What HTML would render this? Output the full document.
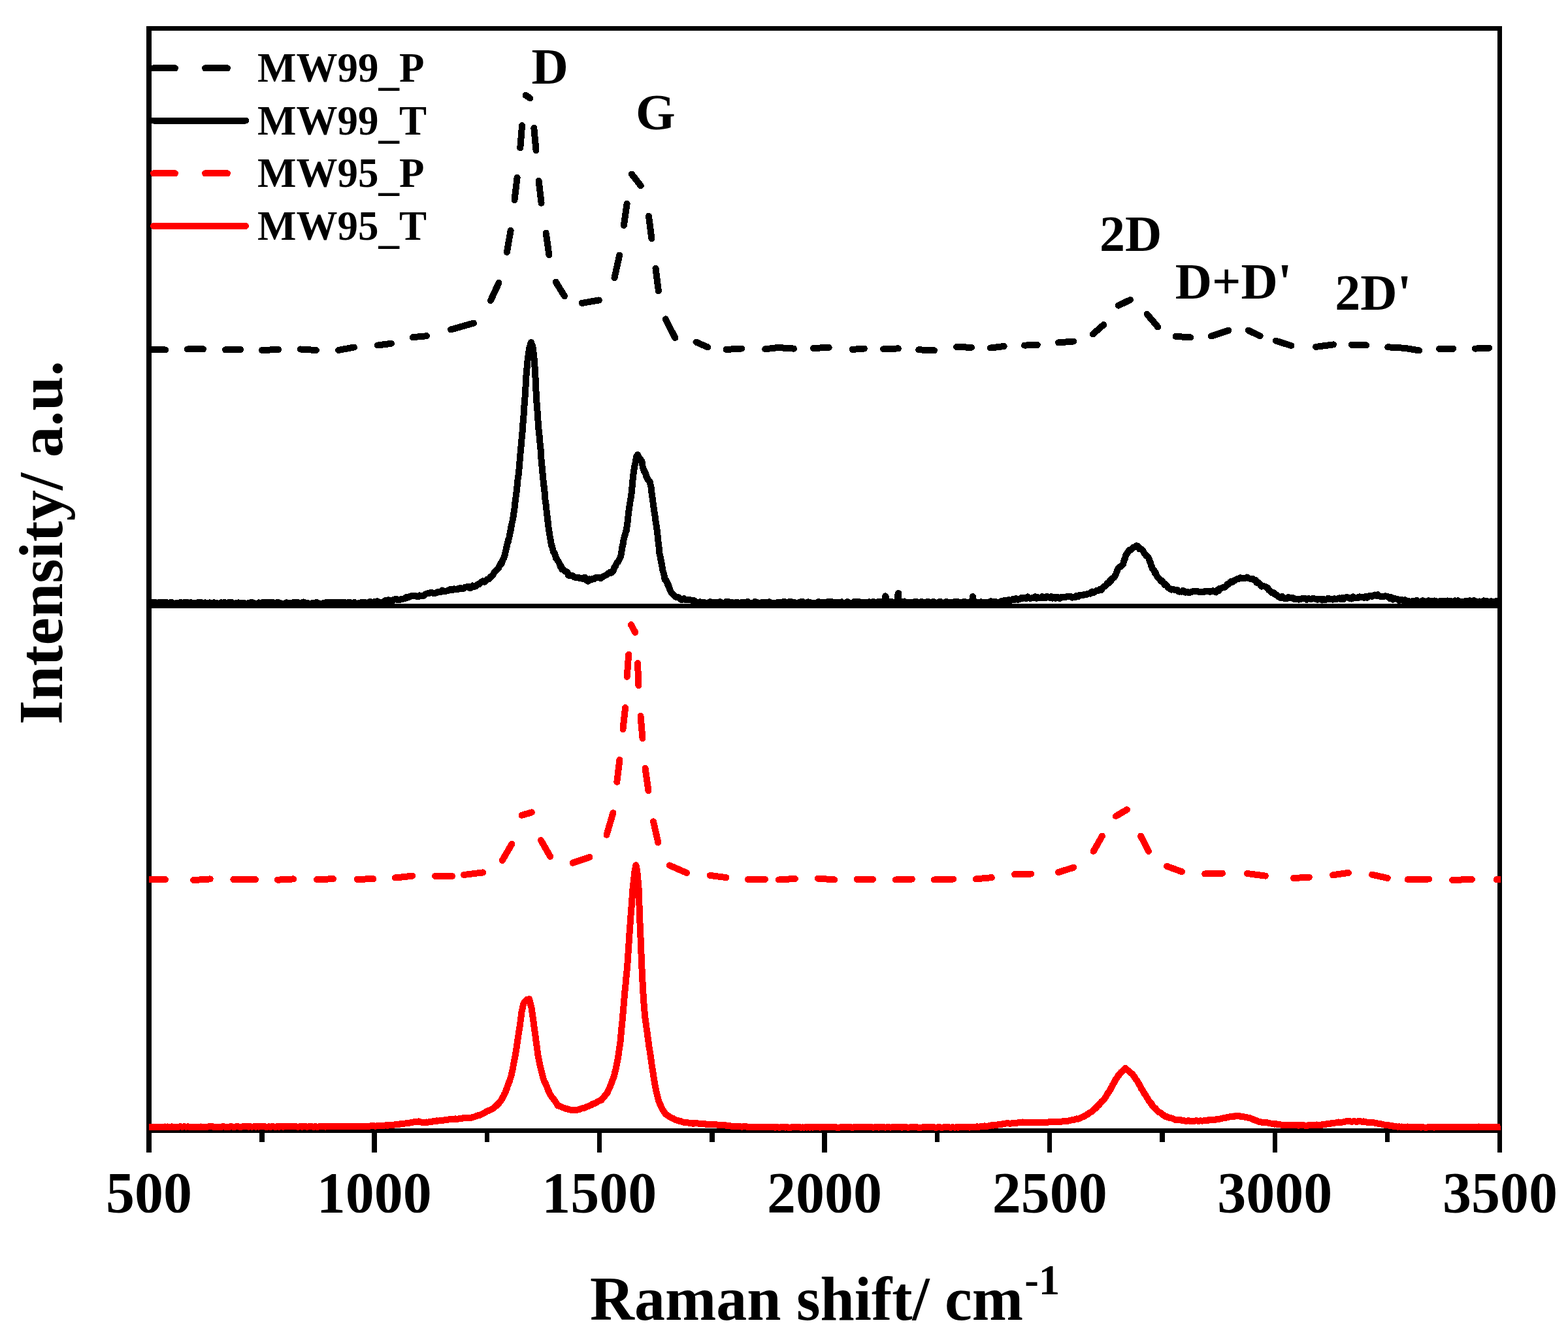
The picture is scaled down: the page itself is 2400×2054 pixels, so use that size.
<!DOCTYPE html>
<html lang="en"><head><meta charset="utf-8"><title>Raman spectra</title>
<style>html,body{margin:0;padding:0;background:#fff}body{width:2400px;height:2054px;overflow:hidden}svg{display:block}text{font-family:"Liberation Serif",serif;font-weight:bold;fill:#000}</style>
</head><body>
<svg width="2400" height="2054" viewBox="0 0 2400 2054">
<rect x="0" y="0" width="2400" height="2054" fill="#fff"/>
<g fill="#000" shape-rendering="crispEdges">
<rect x="224" y="40" width="8" height="1724"/>
<rect x="2292" y="40" width="7" height="1724"/>
<rect x="224" y="40" width="2075" height="7"/>
<rect x="224" y="924" width="2075" height="7"/>
<rect x="224" y="1727" width="2075" height="7"/>
<rect x="397" y="1734" width="8" height="14"/>
<rect x="569" y="1734" width="8" height="30"/>
<rect x="742" y="1734" width="7" height="14"/>
<rect x="914" y="1734" width="7" height="30"/>
<rect x="1086" y="1734" width="8" height="14"/>
<rect x="1258" y="1734" width="8" height="30"/>
<rect x="1431" y="1734" width="7" height="14"/>
<rect x="1603" y="1734" width="7" height="30"/>
<rect x="1775" y="1734" width="8" height="14"/>
<rect x="1948" y="1734" width="7" height="30"/>
<rect x="2120" y="1734" width="7" height="14"/>
</g>
<g fill="none" stroke-linejoin="round" stroke-linecap="round" shape-rendering="crispEdges">
<path d="M233.0,534.7 L253.0,535.5 M287.0,534.5 L311.0,534.3 M345.0,535.3 L368.0,535.0 M401.0,536.0 L426.0,535.0 M459.6,534.5 L484.0,536.0 M518.0,536.0 L542.0,531.5 M578.0,528.5 L599.0,525.8 M631.8,516.2 L653.0,514.2 M690.0,504.5 L725.0,494.5 M750.9,460.1 L763.5,433.0 M775.9,386.1 L781.6,352.8 M787.5,306.2 L791.6,271.8 M796.3,226.3 L799.1,192.1 M804.5,145.7 L811.4,150.4 M817.3,195.8 L820.5,230.0 M824.6,276.6 L828.6,310.9 M835.7,356.6 L840.4,390.2 M850.7,431.5 L864.0,453.2 M890.8,463.9 L916.7,459.5 M940.5,425.4 L948.2,390.6 M954.9,345.0 L959.6,311.6 M966.9,266.6 L980.8,284.2 M993.0,330.8 L997.4,365.2 M1003.5,410.7 L1007.9,445.2 M1018.6,488.4 L1033.3,517.0 M1065.5,523.6 L1083.4,531.4 M1111.6,535.0 L1135.0,533.5 M1171.2,534.3 L1190.7,532.0 L1215.0,533.6 M1245.0,533.0 L1268.7,531.8 M1304.8,534.9 L1322.8,533.6 M1352.1,534.3 L1374.9,533.4 M1406.2,535.3 L1430.0,536.3 M1464.1,531.0 L1486.9,531.8 M1516.0,532.5 L1536.7,530.0 M1568.1,528.6 L1587.8,527.9 M1620.1,524.4 L1643.1,522.5 M1672.8,511.4 L1689.2,497.1 M1711.8,467.6 L1730.1,458.9 M1755.6,480.7 L1772.2,500.4 M1799.6,514.9 L1822.4,516.4 M1853.7,514.5 L1880.3,505.8 M1910.6,505.6 L1928.6,514.3 M1952.7,521.6 L1976.3,529.0 M2013.9,530.9 L2041.0,527.4 M2068.8,527.8 L2091.0,528.4 M2124.2,531.3 L2149.9,532.8 L2172.1,536.5 M2203.0,533.8 L2224.2,533.8 M2258.0,533.6 L2279.2,532.6" stroke="#000" stroke-width="10"/>
<path d="M228.0,923.0 L230.2,922.5 L232.4,922.0 L234.6,923.5 L236.9,921.7 L239.1,923.1 L241.3,922.6 L243.5,921.7 L245.7,923.0 L247.9,921.6 L250.1,922.8 L252.3,921.7 L254.6,921.8 L256.8,922.8 L259.0,924.0 L261.2,921.9 L263.4,922.2 L265.6,923.4 L267.8,924.3 L270.1,923.2 L272.3,922.7 L274.5,924.4 L276.7,921.6 L278.9,924.1 L281.1,922.4 L283.3,921.9 L285.5,921.9 L287.8,922.4 L290.0,923.9 L292.2,922.0 L294.4,923.2 L296.6,923.4 L298.8,922.6 L301.0,923.1 L303.3,921.7 L305.5,921.7 L307.7,922.1 L309.9,923.5 L312.1,922.8 L314.3,922.4 L316.5,923.3 L318.7,922.9 L321.0,922.4 L323.2,923.9 L325.4,923.6 L327.6,922.2 L329.8,923.2 L332.0,923.1 L334.2,924.1 L336.5,923.7 L338.7,922.4 L340.9,924.4 L343.1,921.9 L345.3,922.8 L347.5,923.8 L349.7,922.0 L351.9,923.0 L354.2,921.6 L356.4,923.5 L358.6,923.8 L360.8,923.2 L363.0,924.1 L365.2,922.4 L367.4,923.6 L369.7,923.3 L371.9,923.2 L374.1,922.9 L376.3,924.0 L378.5,924.3 L380.7,922.9 L382.9,923.5 L385.1,921.7 L387.4,923.6 L389.6,923.4 L391.8,924.5 L394.0,924.0 L396.2,922.4 L398.4,922.7 L400.6,923.5 L402.9,921.6 L405.1,922.9 L407.3,922.0 L409.5,921.9 L411.7,921.7 L413.9,923.8 L416.1,921.9 L418.3,922.2 L420.6,922.7 L422.8,924.1 L425.0,921.7 L427.2,922.8 L429.4,923.1 L431.6,924.2 L433.8,924.0 L436.1,924.1 L438.3,922.3 L440.5,922.7 L442.7,922.6 L444.9,924.2 L447.1,924.4 L449.3,922.0 L451.5,922.0 L453.8,922.2 L456.0,922.2 L458.2,923.0 L460.4,923.3 L462.6,922.3 L464.8,921.5 L467.0,922.8 L469.3,922.6 L471.5,923.2 L473.7,924.4 L475.9,923.6 L478.1,923.0 L480.3,923.4 L482.5,923.5 L484.7,921.7 L487.0,924.2 L489.2,923.8 L491.4,924.1 L493.6,923.9 L495.8,922.7 L498.0,922.7 L500.2,921.8 L502.5,923.4 L504.7,921.7 L506.9,921.7 L509.1,922.1 L511.3,922.0 L513.5,922.5 L515.7,921.7 L517.9,921.5 L520.2,922.0 L522.4,921.8 L524.6,922.6 L526.8,921.6 L529.0,924.1 L531.2,923.3 L533.4,921.9 L535.7,922.3 L537.9,922.5 L540.1,922.6 L542.3,921.9 L544.5,924.0 L546.7,924.5 L548.9,922.9 L551.1,923.0 L553.4,921.8 L555.6,921.8 L557.8,922.5 L560.0,922.3 L562.2,923.8 L564.4,921.7 L566.7,921.1 L568.9,923.7 L571.1,922.3 L573.3,920.9 L575.6,922.0 L577.8,920.2 L580.0,921.6 L582.4,922.6 L584.7,921.9 L587.1,921.0 L589.5,919.3 L591.8,919.3 L594.2,918.3 L596.5,919.8 L598.9,918.7 L601.3,919.1 L603.6,917.4 L606.0,916.7 L608.3,918.1 L610.5,918.2 L612.8,917.5 L615.1,917.0 L617.3,916.6 L619.6,916.0 L621.9,914.1 L624.1,914.6 L626.4,913.8 L628.7,912.4 L630.9,912.1 L633.2,912.4 L635.5,912.0 L637.7,912.9 L640.0,913.4 L642.3,911.4 L644.6,912.4 L646.9,912.1 L649.2,911.5 L651.5,909.3 L653.8,908.4 L656.2,907.9 L658.5,907.4 L660.8,907.0 L663.1,907.8 L665.4,908.1 L667.7,907.5 L670.0,905.9 L672.2,906.1 L674.4,906.1 L676.7,903.6 L678.9,905.0 L681.1,905.3 L683.3,904.6 L685.6,904.1 L687.8,902.9 L690.0,901.6 L692.5,903.1 L694.9,901.4 L697.4,902.4 L699.8,902.5 L702.2,900.5 L704.7,900.1 L707.1,901.5 L709.6,900.6 L712.0,898.7 L714.4,898.3 L716.9,898.2 L719.3,900.2 L721.4,899.2 L723.5,896.5 L725.6,897.8 L727.7,897.5 L729.8,895.8 L731.9,894.1 L734.0,893.9 L736.4,891.2 L738.9,889.4 L741.3,890.8 L743.8,888.4 L746.2,886.5 L748.7,886.3 L750.6,882.8 L752.6,882.2 L754.5,880.1 L756.3,876.2 L758.1,874.4 L760.0,872.5 L761.8,870.3 L763.0,869.5 L764.2,866.6 L765.3,865.2 L766.5,862.4 L767.7,862.8 L768.6,859.1 L769.5,857.4 L770.3,855.7 L771.2,854.6 L772.1,851.1 L772.7,850.1 L773.3,846.4 L774.0,844.0 L774.6,841.6 L775.2,837.6 L775.8,836.4 L776.4,833.2 L777.0,830.2 L777.6,830.2 L778.2,825.9 L778.8,824.4 L779.4,822.7 L779.9,819.7 L780.4,816.6 L780.9,814.7 L781.4,812.4 L781.9,810.6 L782.4,806.1 L782.9,805.0 L783.4,801.6 L783.8,799.3 L784.3,798.3 L784.8,795.1 L785.3,792.8 L785.7,790.9 L786.0,789.0 L786.4,785.1 L786.8,783.2 L787.1,780.4 L787.5,778.0 L787.8,776.1 L788.0,773.0 L788.2,770.7 L788.5,768.1 L788.8,767.1 L789.0,763.9 L789.4,762.0 L789.7,759.8 L790.1,755.3 L790.5,753.7 L790.8,752.5 L791.2,749.7 L791.4,745.2 L791.7,742.7 L791.9,741.2 L792.1,737.6 L792.4,735.7 L792.6,732.7 L792.9,732.1 L793.2,730.0 L793.5,727.8 L793.8,723.2 L794.1,722.4 L794.4,719.8 L794.6,715.8 L794.8,715.6 L795.0,713.4 L795.2,708.7 L795.4,708.5 L795.6,704.4 L795.8,702.2 L796.1,701.3 L796.3,698.3 L796.5,693.9 L796.8,692.2 L797.0,690.0 L797.2,687.2 L797.4,684.5 L797.6,682.6 L797.8,681.5 L798.0,677.1 L798.2,676.4 L798.4,673.8 L798.6,670.3 L798.8,668.9 L799.0,667.5 L799.2,664.9 L799.4,661.3 L799.6,661.7 L799.8,658.9 L800.0,657.2 L800.1,652.3 L800.3,650.5 L800.5,647.6 L800.6,647.5 L800.8,643.8 L801.0,641.1 L801.2,639.7 L801.3,638.9 L801.5,636.4 L801.7,632.4 L801.8,629.8 L802.0,629.9 L802.2,626.6 L802.4,624.7 L802.5,620.6 L802.7,618.3 L802.9,617.9 L803.0,614.8 L803.2,611.5 L803.3,611.9 L803.5,608.7 L803.6,606.9 L803.8,602.5 L803.9,602.6 L804.0,598.0 L804.2,598.1 L804.3,594.6 L804.5,592.0 L804.6,590.4 L804.7,589.3 L804.9,585.0 L805.0,582.4 L805.2,581.3 L805.3,578.2 L805.4,575.5 L805.6,573.4 L805.7,570.9 L805.9,569.1 L806.0,567.1 L806.2,564.9 L806.5,564.0 L806.7,560.3 L806.9,558.7 L807.1,555.4 L807.4,553.7 L807.6,550.4 L807.8,548.9 L808.1,545.9 L808.3,545.8 L808.8,542.7 L809.2,539.1 L809.6,537.5 L810.1,536.3 L810.5,531.3 L811.0,531.0 L812.0,526.7 L813.1,523.9 L814.2,528.0 L815.3,529.7 L815.6,532.5 L816.0,535.6 L816.3,539.0 L816.6,539.6 L817.0,543.6 L817.3,545.7 L817.5,547.8 L817.6,549.3 L817.8,551.4 L818.0,552.8 L818.1,555.3 L818.3,557.4 L818.5,561.6 L818.7,562.4 L818.8,564.4 L819.0,566.5 L819.1,571.0 L819.2,573.3 L819.3,575.0 L819.4,576.1 L819.5,578.2 L819.7,580.6 L819.8,583.4 L819.9,584.7 L820.0,587.8 L820.1,589.5 L820.2,593.9 L820.3,596.2 L820.4,597.2 L820.5,598.5 L820.7,602.9 L820.8,603.2 L820.9,605.6 L821.0,606.8 L821.1,610.2 L821.2,612.7 L821.4,615.1 L821.5,616.4 L821.7,619.6 L821.9,620.4 L822.1,623.4 L822.2,625.1 L822.4,628.3 L822.6,629.5 L822.7,631.7 L822.9,634.8 L823.1,636.9 L823.2,640.2 L823.4,642.3 L823.6,645.2 L823.8,647.2 L823.9,649.6 L824.1,652.4 L824.3,653.1 L824.4,655.2 L824.6,659.5 L824.8,659.2 L825.1,663.2 L825.3,665.3 L825.5,665.8 L825.7,670.4 L826.0,672.9 L826.2,674.4 L826.4,677.0 L826.7,679.5 L826.9,679.8 L827.1,683.2 L827.3,685.4 L827.6,688.7 L827.8,690.9 L827.9,693.4 L828.1,695.2 L828.2,698.5 L828.3,700.3 L828.5,702.8 L828.6,703.9 L828.8,705.7 L829.1,708.5 L829.3,711.6 L829.5,713.2 L829.8,717.9 L830.0,719.5 L830.2,722.1 L830.5,724.6 L830.8,727.2 L831.0,729.1 L831.2,730.1 L831.5,734.9 L831.8,737.2 L832.0,738.9 L832.2,741.5 L832.5,744.3 L832.8,744.9 L833.0,749.4 L833.2,750.4 L833.5,752.3 L833.7,755.3 L833.9,759.1 L834.2,760.0 L834.4,764.0 L834.7,767.2 L835.0,768.2 L835.3,770.3 L835.7,773.0 L836.0,776.1 L836.3,778.8 L836.5,780.8 L836.8,783.3 L837.0,784.0 L837.3,786.7 L837.5,789.4 L837.8,793.3 L838.1,794.5 L838.4,797.7 L838.7,798.5 L839.0,801.1 L839.3,804.2 L839.6,807.8 L840.0,810.3 L840.3,812.7 L840.7,814.0 L841.1,817.1 L841.4,819.4 L841.8,821.9 L842.3,823.3 L842.8,828.0 L843.2,828.4 L843.7,833.2 L844.2,835.5 L844.7,835.2 L845.6,838.8 L846.5,842.3 L847.3,845.1 L848.2,845.9 L849.1,847.7 L850.1,850.0 L851.0,854.6 L852.0,854.8 L853.5,858.4 L854.9,859.5 L856.4,863.1 L857.6,866.8 L858.9,866.8 L860.1,871.4 L862.5,871.9 L865.0,874.5 L867.4,875.4 L868.6,876.2 L869.9,880.3 L871.1,881.3 L873.8,880.6 L876.5,881.3 L879.2,883.5 L881.4,883.9 L883.6,884.0 L885.8,884.1 L888.0,885.2 L890.4,884.9 L892.9,886.3 L895.3,883.5 L897.5,887.6 L899.7,889.7 L902.1,886.3 L904.6,887.5 L907.0,885.6 L909.6,886.0 L912.1,884.0 L914.7,884.1 L917.3,884.0 L919.7,885.1 L922.2,883.1 L924.6,881.7 L927.0,880.7 L929.5,879.0 L931.9,877.0 L933.8,875.9 L935.8,876.7 L937.7,873.8 L938.8,873.7 L940.0,869.5 L941.1,867.5 L942.2,866.2 L943.4,862.8 L944.7,860.8 L945.9,860.1 L947.3,857.4 L948.6,854.6 L950.0,851.6 L950.4,850.1 L950.9,847.8 L951.3,844.2 L951.7,842.4 L952.2,838.0 L952.6,837.7 L953.0,834.6 L953.5,833.3 L953.9,830.7 L954.3,827.4 L954.8,824.5 L955.2,824.9 L956.0,820.0 L956.7,818.5 L957.5,815.6 L958.2,812.9 L959.0,811.7 L959.3,809.9 L959.6,805.3 L960.0,804.0 L960.3,800.4 L960.6,798.7 L960.9,795.7 L961.2,792.7 L961.5,790.3 L961.7,788.1 L962.0,787.9 L962.3,784.3 L962.5,781.1 L962.8,780.9 L963.1,778.8 L963.5,774.6 L964.0,771.2 L964.4,768.9 L964.8,766.1 L965.3,764.3 L965.7,761.1 L966.0,759.2 L966.2,756.9 L966.5,755.5 L966.7,754.1 L967.0,751.4 L967.2,748.0 L967.5,745.7 L967.7,743.7 L967.9,740.9 L968.2,738.5 L968.4,735.3 L968.6,733.6 L968.8,733.4 L969.0,728.5 L969.3,727.3 L969.5,725.4 L969.9,723.6 L970.3,719.1 L970.8,716.8 L971.2,714.2 L971.6,712.2 L972.0,709.8 L972.5,709.1 L972.9,706.5 L973.3,704.4 L973.8,699.6 L976.0,695.9 L977.5,699.9 L978.9,702.3 L980.3,703.0 L981.8,705.3 L982.4,705.9 L983.0,709.6 L983.6,713.6 L984.2,715.7 L984.8,718.3 L985.7,721.1 L986.6,721.3 L987.6,723.3 L988.5,725.9 L989.4,729.5 L990.7,731.8 L992.0,734.5 L993.4,735.8 L994.7,737.4 L995.2,740.2 L995.6,741.8 L996.1,744.5 L996.5,745.4 L997.0,750.0 L997.3,750.6 L997.5,754.9 L997.8,756.2 L998.0,757.4 L998.3,759.1 L998.5,761.7 L998.8,765.0 L999.0,767.4 L999.3,767.8 L999.7,770.2 L1000.1,774.1 L1000.5,776.8 L1000.8,778.8 L1001.2,780.8 L1001.6,784.5 L1002.0,785.3 L1002.4,788.7 L1002.8,791.7 L1003.1,795.7 L1003.5,797.3 L1003.9,800.6 L1004.2,801.5 L1004.5,803.0 L1004.8,805.2 L1005.2,809.5 L1005.5,810.9 L1005.8,811.9 L1006.1,813.3 L1006.4,817.2 L1006.6,820.3 L1006.9,822.1 L1007.2,824.1 L1007.4,827.9 L1007.7,831.2 L1008.0,831.6 L1008.2,833.6 L1008.5,837.0 L1008.7,839.8 L1009.0,843.1 L1009.2,844.2 L1009.6,848.2 L1010.1,850.2 L1010.5,851.6 L1010.9,852.9 L1011.3,857.4 L1011.8,857.6 L1012.2,861.3 L1012.7,861.9 L1013.1,864.3 L1013.6,868.4 L1014.0,869.4 L1014.5,873.9 L1015.0,874.8 L1015.5,876.1 L1016.0,878.5 L1016.6,881.4 L1017.1,884.4 L1017.6,887.5 L1018.7,887.0 L1019.9,889.7 L1021.0,891.0 L1022.1,895.2 L1022.9,895.0 L1023.7,897.1 L1024.4,899.4 L1025.2,902.7 L1027.0,906.2 L1028.7,908.2 L1030.5,909.8 L1032.5,912.4 L1034.6,913.9 L1036.6,913.9 L1039.1,914.5 L1041.7,917.7 L1044.2,918.1 L1046.9,916.2 L1049.6,918.3 L1052.2,917.6 L1054.9,917.8 L1057.3,918.5 L1059.7,918.8 L1062.2,919.2 L1064.6,920.8 L1067.0,921.9 L1069.2,923.7 L1071.4,921.2 L1073.6,923.7 L1075.8,921.5 L1078.0,921.9 L1080.2,923.3 L1082.4,923.4 L1084.6,922.2 L1086.8,921.1 L1089.0,922.4 L1091.2,922.1 L1093.4,923.7 L1095.6,921.6 L1097.8,922.1 L1100.0,923.7 L1102.2,921.1 L1104.4,922.2 L1106.6,923.4 L1108.9,923.3 L1111.1,921.1 L1113.3,921.1 L1115.5,921.2 L1117.7,923.7 L1119.9,921.7 L1122.1,923.2 L1124.4,923.6 L1126.6,922.0 L1128.8,921.8 L1131.0,923.8 L1133.2,922.8 L1135.4,921.7 L1137.6,923.1 L1139.9,921.9 L1142.1,921.7 L1144.3,920.9 L1146.5,923.2 L1148.7,923.7 L1150.9,922.8 L1153.1,923.7 L1155.3,921.0 L1157.6,921.6 L1159.8,922.3 L1162.0,923.7 L1164.2,923.7 L1166.4,922.0 L1168.6,921.6 L1170.8,922.2 L1173.1,922.3 L1175.3,923.6 L1177.5,921.4 L1179.7,923.3 L1181.9,923.1 L1184.1,923.3 L1186.3,923.1 L1188.6,922.6 L1190.8,921.8 L1193.0,921.8 L1195.2,921.9 L1197.4,923.2 L1199.6,921.0 L1201.8,921.4 L1204.1,923.1 L1206.3,921.5 L1208.5,921.0 L1210.7,920.9 L1212.9,922.4 L1215.1,921.8 L1217.3,923.7 L1219.6,923.4 L1221.8,923.7 L1224.0,921.6 L1226.2,921.0 L1228.4,921.0 L1230.6,922.2 L1232.8,922.9 L1235.0,922.1 L1237.3,921.4 L1239.5,922.0 L1241.7,922.6 L1243.9,922.7 L1246.1,923.0 L1248.3,923.2 L1250.5,922.7 L1252.8,921.1 L1255.0,923.2 L1257.2,921.6 L1259.4,922.4 L1261.6,921.8 L1263.8,922.9 L1266.0,921.3 L1268.3,921.4 L1270.5,921.4 L1272.7,921.1 L1274.9,923.3 L1277.1,922.4 L1279.3,921.6 L1281.5,921.8 L1283.8,923.6 L1286.0,922.2 L1288.2,921.3 L1290.4,923.1 L1292.6,922.6 L1294.8,923.6 L1297.0,920.9 L1299.3,922.0 L1301.5,923.1 L1303.7,923.1 L1305.9,923.3 L1308.1,920.7 L1310.3,921.5 L1312.5,920.9 L1314.7,921.1 L1317.0,923.5 L1319.2,922.3 L1321.4,923.4 L1323.6,921.7 L1325.8,923.2 L1328.0,921.9 L1330.2,921.3 L1332.5,922.9 L1334.7,923.4 L1336.9,920.9 L1339.1,922.3 L1341.3,922.4 L1343.5,921.2 L1345.7,921.6 L1348.0,920.9 L1350.2,921.1 L1352.4,921.3 L1354.6,922.3 L1354.8,920.2 L1354.9,916.6 L1355.0,913.7 L1355.2,912.4 L1355.8,913.4 L1356.0,914.2 L1356.1,916.9 L1356.2,918.8 L1356.4,922.9 L1358.9,922.1 L1361.4,920.7 L1363.9,920.8 L1366.4,921.7 L1368.9,922.2 L1371.4,922.4 L1373.9,920.8 L1374.0,918.7 L1374.1,918.1 L1374.2,915.0 L1374.3,912.3 L1374.4,910.2 L1374.5,909.9 L1375.1,907.9 L1375.2,910.9 L1375.3,912.6 L1375.4,915.0 L1375.5,918.6 L1375.6,921.2 L1375.7,921.6 L1377.9,921.1 L1380.1,922.7 L1382.3,921.1 L1384.5,920.5 L1386.7,923.2 L1388.9,921.8 L1391.1,923.0 L1393.3,921.7 L1395.6,923.1 L1397.8,921.9 L1400.0,921.0 L1402.2,920.5 L1404.4,922.2 L1406.6,922.4 L1408.8,923.2 L1411.0,920.8 L1413.2,922.4 L1415.4,921.6 L1417.6,922.0 L1419.8,920.9 L1422.0,921.3 L1424.2,922.1 L1426.4,923.3 L1428.6,920.8 L1430.8,922.0 L1433.1,922.9 L1435.3,923.4 L1437.5,921.1 L1439.7,920.9 L1441.9,923.3 L1444.1,923.4 L1446.3,921.9 L1448.5,920.7 L1450.7,923.3 L1452.9,921.7 L1455.1,923.2 L1457.3,922.4 L1459.5,923.0 L1461.7,921.0 L1463.9,922.9 L1466.1,921.2 L1468.3,921.7 L1470.6,923.0 L1472.8,923.0 L1475.0,921.0 L1477.2,921.2 L1479.4,921.7 L1481.6,922.1 L1483.8,921.7 L1486.0,920.9 L1488.2,921.2 L1488.4,920.2 L1488.6,918.2 L1488.8,913.1 L1489.4,914.7 L1489.6,917.8 L1489.8,918.1 L1490.0,923.0 L1492.2,920.8 L1494.4,922.2 L1496.7,922.1 L1498.9,922.3 L1501.1,921.3 L1503.3,921.6 L1505.6,922.1 L1507.8,921.6 L1510.0,922.2 L1512.2,921.6 L1514.4,921.5 L1516.7,920.2 L1518.9,922.0 L1521.1,921.6 L1523.3,920.8 L1525.6,922.3 L1527.8,922.4 L1530.0,921.4 L1532.3,920.2 L1534.6,920.7 L1536.9,919.2 L1539.1,919.0 L1541.4,919.5 L1543.7,918.1 L1546.0,918.8 L1548.2,918.7 L1550.5,916.9 L1552.8,918.3 L1555.0,916.2 L1557.2,917.8 L1559.5,917.6 L1561.8,916.4 L1564.0,914.7 L1566.2,915.6 L1568.5,914.9 L1570.8,916.2 L1573.0,913.4 L1575.2,915.5 L1577.5,915.9 L1579.8,915.1 L1582.0,915.3 L1584.2,913.4 L1586.5,915.7 L1588.8,914.2 L1591.0,915.5 L1593.2,915.4 L1595.5,913.1 L1597.8,914.9 L1600.0,915.3 L1602.2,912.8 L1604.4,913.7 L1606.7,915.0 L1608.9,913.3 L1611.1,915.6 L1613.3,913.9 L1615.6,915.6 L1617.8,913.6 L1620.0,914.8 L1622.3,915.9 L1624.7,913.7 L1627.0,913.7 L1629.4,914.4 L1631.7,913.7 L1634.1,912.7 L1636.4,913.0 L1638.7,912.7 L1641.1,914.7 L1643.4,913.7 L1645.8,914.0 L1648.1,911.6 L1650.5,913.1 L1652.8,910.8 L1655.1,911.4 L1657.5,911.1 L1659.8,909.7 L1662.2,910.5 L1664.5,909.0 L1666.9,908.4 L1669.2,908.6 L1671.5,905.5 L1673.9,907.3 L1676.2,905.4 L1678.6,903.9 L1680.9,904.3 L1683.3,901.8 L1685.6,903.2 L1687.5,900.3 L1689.4,898.0 L1691.3,897.6 L1693.3,895.0 L1695.2,892.6 L1697.1,892.6 L1698.8,888.6 L1700.4,889.0 L1702.0,885.4 L1703.7,884.7 L1705.3,883.8 L1707.0,880.7 L1708.2,878.4 L1709.5,874.9 L1710.7,871.6 L1711.9,869.2 L1713.6,867.9 L1715.2,867.6 L1716.8,865.4 L1718.5,864.0 L1719.3,863.0 L1720.1,858.5 L1721.0,856.6 L1721.8,855.7 L1722.6,851.7 L1723.4,849.4 L1724.6,848.4 L1725.8,845.6 L1727.1,844.3 L1728.3,841.9 L1730.5,841.6 L1732.7,840.2 L1734.9,837.7 L1737.3,837.3 L1739.8,835.2 L1742.0,836.1 L1744.2,840.4 L1746.4,840.2 L1748.0,841.6 L1749.7,843.1 L1751.3,846.4 L1752.9,848.7 L1754.2,850.4 L1755.5,851.2 L1756.9,852.8 L1758.2,854.0 L1759.5,857.8 L1760.3,860.1 L1761.2,861.9 L1762.0,865.3 L1762.8,867.1 L1764.0,870.7 L1765.2,872.1 L1766.5,872.7 L1767.7,876.7 L1768.9,876.6 L1770.2,880.5 L1771.4,882.6 L1772.6,884.5 L1774.6,885.6 L1776.7,889.4 L1778.8,888.8 L1780.8,892.1 L1782.4,894.9 L1784.1,894.1 L1785.7,895.9 L1787.4,898.8 L1789.0,900.1 L1791.0,901.3 L1793.1,902.7 L1795.2,901.6 L1797.2,902.8 L1799.5,903.1 L1801.8,902.7 L1804.1,905.5 L1806.4,905.5 L1808.7,905.6 L1810.9,903.8 L1813.1,906.6 L1815.2,906.6 L1817.4,906.0 L1819.6,907.1 L1821.8,906.6 L1824.1,905.7 L1826.4,905.2 L1828.7,905.4 L1831.0,904.6 L1833.3,905.3 L1835.6,906.4 L1838.0,906.2 L1840.3,906.5 L1842.7,906.0 L1845.0,904.5 L1847.4,905.3 L1849.7,904.8 L1852.0,905.9 L1854.3,905.1 L1856.6,904.3 L1858.9,905.4 L1861.2,906.4 L1863.2,903.2 L1865.2,904.2 L1867.1,900.6 L1869.1,900.4 L1871.1,899.3 L1873.0,899.5 L1874.9,898.7 L1876.8,896.7 L1878.8,894.1 L1880.7,894.4 L1882.6,891.4 L1884.8,889.9 L1887.0,890.7 L1889.2,888.6 L1891.3,887.5 L1893.5,886.2 L1895.7,885.9 L1898.3,884.2 L1900.9,885.2 L1903.6,884.6 L1906.2,884.9 L1908.8,883.5 L1911.1,885.2 L1913.4,885.6 L1915.7,885.6 L1918.0,886.1 L1920.3,888.2 L1921.9,888.0 L1923.6,892.0 L1925.2,891.2 L1926.9,892.3 L1928.5,894.0 L1930.8,897.6 L1933.1,897.0 L1935.4,897.5 L1937.7,898.3 L1940.0,899.5 L1941.9,903.0 L1943.7,904.3 L1945.6,906.0 L1947.4,907.6 L1949.3,907.1 L1951.5,909.8 L1953.7,910.2 L1956.0,912.7 L1958.2,913.8 L1960.4,915.2 L1962.7,912.9 L1965.0,915.6 L1967.3,916.0 L1969.6,916.3 L1971.9,914.1 L1974.2,914.6 L1976.5,914.6 L1978.8,914.6 L1981.1,917.3 L1983.4,917.4 L1985.8,917.0 L1988.1,917.6 L1990.5,917.1 L1992.9,916.2 L1995.3,915.7 L1997.6,915.7 L2000.0,917.8 L2002.4,916.2 L2004.8,916.6 L2007.1,917.0 L2009.5,915.9 L2011.9,916.5 L2014.2,916.6 L2016.6,917.9 L2019.0,916.8 L2021.4,916.6 L2023.7,918.5 L2026.1,917.1 L2028.5,918.1 L2030.9,917.4 L2033.2,915.6 L2035.6,916.7 L2038.0,916.7 L2040.3,917.6 L2042.7,916.2 L2045.1,917.1 L2047.4,916.5 L2049.8,915.4 L2052.1,917.2 L2054.5,914.8 L2056.9,916.8 L2059.2,914.7 L2061.6,914.1 L2064.0,914.6 L2066.3,916.1 L2068.7,916.6 L2071.1,913.5 L2073.5,914.8 L2075.8,914.6 L2078.2,915.4 L2080.6,913.4 L2083.0,914.2 L2085.3,913.6 L2087.7,914.9 L2090.1,912.9 L2092.5,914.6 L2094.9,912.3 L2097.2,911.7 L2099.6,912.9 L2102.0,911.9 L2104.4,910.5 L2106.8,911.7 L2109.0,910.3 L2111.3,912.6 L2113.5,912.6 L2115.7,913.1 L2117.9,912.9 L2120.2,912.3 L2122.4,912.7 L2124.8,913.5 L2127.3,915.9 L2129.7,914.3 L2132.2,917.6 L2134.6,915.9 L2136.9,916.7 L2139.1,917.1 L2141.4,919.3 L2143.6,918.3 L2145.9,918.2 L2148.2,920.0 L2150.4,918.3 L2152.7,919.3 L2154.9,919.7 L2157.2,920.7 L2159.5,920.7 L2161.7,920.4 L2164.0,919.5 L2166.2,919.5 L2168.5,919.0 L2170.7,921.1 L2173.0,920.6 L2175.2,920.9 L2177.5,919.2 L2179.7,920.0 L2182.0,921.1 L2184.2,920.5 L2186.5,919.2 L2188.7,920.2 L2191.0,921.5 L2193.2,919.6 L2195.5,919.5 L2197.7,919.9 L2200.0,921.1 L2202.2,921.5 L2204.5,919.5 L2206.7,919.5 L2208.9,919.7 L2211.2,920.0 L2213.4,920.6 L2215.6,919.5 L2217.9,920.0 L2220.1,919.6 L2222.3,921.9 L2224.6,921.2 L2226.8,919.3 L2229.0,921.9 L2231.3,919.3 L2233.5,920.2 L2235.7,922.0 L2238.0,921.4 L2240.2,921.2 L2242.4,920.3 L2244.7,919.6 L2246.9,920.9 L2249.1,919.3 L2251.3,919.6 L2253.6,920.2 L2255.8,919.1 L2258.0,920.2 L2260.3,921.4 L2262.5,921.1 L2264.7,920.5 L2267.0,920.9 L2269.2,920.4 L2271.4,919.4 L2273.7,920.8 L2275.9,920.2 L2278.1,921.2 L2280.4,921.7 L2282.6,920.3 L2284.8,920.7 L2287.1,921.2 L2289.3,920.3 L2291.5,919.7 L2293.8,921.2 L2296.0,920.5" stroke="#000" stroke-width="10" stroke-linecap="butt"/>
<path d="M233.0,1346.1 L253.0,1346.1 M296.1,1347.1 L321.7,1345.4 M357.3,1346.1 L391.0,1346.1 M424.8,1346.7 L449.2,1345.4 M485.1,1346.1 L510.0,1345.2 M546.8,1345.8 L571.2,1345.2 M604.9,1343.5 L631.3,1340.7 M666.0,1340.9 L692.1,1340.9 M709.9,1339.0 L739.1,1335.4 M768.8,1317.0 L783.3,1291.9 M798.5,1247.8 L813.7,1243.4 M827.9,1285.9 L842.2,1311.0 M876.6,1320.7 L902.5,1311.9 M928.5,1277.8 L938.4,1244.1 M944.3,1196.9 L948.4,1163.0 M953.5,1116.0 L957.1,1083.1 M959.7,1035.8 L962.2,1001.8 M965.9,956.2 L972.2,967.9 M976.1,1015.0 L977.3,1049.3 M980.5,1096.0 L983.5,1130.0 M987.6,1175.9 L992.4,1210.1 M1000.0,1257.3 L1007.4,1289.6 M1024.7,1324.5 L1051.1,1336.0 M1086.8,1339.9 L1111.5,1343.1 M1144.9,1345.9 L1171.0,1345.9 M1192.0,1346.5 L1216.9,1344.9 M1251.9,1344.6 L1277.1,1346.3 M1311.7,1345.9 L1336.0,1345.9 M1370.8,1346.5 L1395.9,1345.5 M1429.7,1346.5 L1459.0,1345.5 M1493.7,1345.3 L1517.8,1343.2 M1552.9,1338.2 L1578.0,1337.5 M1619.9,1335.1 L1643.2,1327.8 M1673.7,1302.9 L1686.9,1279.7 M1707.9,1249.2 L1724.9,1239.2 M1746.1,1279.7 L1758.1,1302.9 M1786.1,1325.9 L1808.9,1334.2 M1844.2,1337.5 L1871.0,1336.7 M1908.9,1337.0 L1936.9,1340.6 M1980.0,1344.0 L2003.8,1342.7 M2040.1,1339.3 L2063.9,1335.9 M2100.0,1338.7 L2123.8,1344.0 M2154.8,1346.1 L2187.1,1345.5 M2223.2,1347.0 L2252.9,1345.9 M2290.7,1346.1 L2292.0,1346.1" stroke="#ff0000" stroke-width="10"/>
<rect x="228" y="1341.1" width="6" height="10" fill="#ff0000" stroke="none"/>
<rect x="2290" y="1341.1" width="7" height="10" fill="#ff0000" stroke="none"/>
<path d="M228.0,1725.0 L230.2,1724.9 L232.4,1725.0 L234.6,1725.4 L236.9,1724.9 L239.1,1725.0 L241.3,1725.0 L243.5,1724.6 L245.7,1725.0 L247.9,1725.1 L250.1,1725.2 L252.3,1724.5 L254.6,1724.7 L256.8,1724.5 L259.0,1725.2 L261.2,1725.1 L263.4,1724.4 L265.6,1725.4 L267.8,1725.3 L270.1,1725.0 L272.3,1725.0 L274.5,1724.5 L276.7,1724.4 L278.9,1724.9 L281.1,1724.4 L283.3,1724.5 L285.5,1724.6 L287.8,1724.4 L290.0,1724.8 L292.2,1724.7 L294.4,1725.1 L296.6,1724.8 L298.8,1724.9 L301.0,1724.8 L303.3,1724.9 L305.5,1724.7 L307.7,1724.5 L309.9,1725.3 L312.1,1725.2 L314.3,1725.1 L316.5,1724.9 L318.7,1724.5 L321.0,1724.4 L323.2,1724.5 L325.4,1724.3 L327.6,1725.0 L329.8,1724.6 L332.0,1725.0 L334.2,1724.6 L336.5,1725.1 L338.7,1725.0 L340.9,1724.2 L343.1,1724.4 L345.3,1725.1 L347.5,1724.6 L349.7,1725.1 L351.9,1724.5 L354.2,1724.2 L356.4,1724.7 L358.6,1724.9 L360.8,1724.4 L363.0,1724.2 L365.2,1724.4 L367.4,1725.0 L369.7,1724.8 L371.9,1724.2 L374.1,1724.3 L376.3,1724.2 L378.5,1724.1 L380.7,1724.8 L382.9,1724.2 L385.1,1724.6 L387.4,1724.5 L389.6,1724.2 L391.8,1724.7 L394.0,1724.1 L396.2,1724.6 L398.4,1724.1 L400.6,1724.4 L402.9,1724.2 L405.1,1724.2 L407.3,1724.9 L409.5,1724.8 L411.7,1724.3 L413.9,1724.8 L416.1,1724.1 L418.3,1724.3 L420.6,1724.8 L422.8,1724.6 L425.0,1724.0 L427.2,1724.9 L429.4,1724.1 L431.6,1724.1 L433.8,1724.7 L436.1,1724.2 L438.3,1724.2 L440.5,1723.9 L442.7,1723.9 L444.9,1724.4 L447.1,1724.1 L449.3,1724.4 L451.5,1724.2 L453.8,1724.3 L456.0,1724.8 L458.2,1724.3 L460.4,1724.4 L462.6,1724.7 L464.8,1724.0 L467.0,1723.9 L469.3,1724.7 L471.5,1724.6 L473.7,1724.0 L475.9,1723.9 L478.1,1724.5 L480.3,1724.7 L482.5,1723.9 L484.7,1724.7 L487.0,1724.6 L489.2,1724.3 L491.4,1724.1 L493.6,1723.8 L495.8,1723.7 L498.0,1724.6 L500.2,1723.9 L502.5,1724.4 L504.7,1723.9 L506.9,1724.5 L509.1,1724.2 L511.3,1723.9 L513.5,1723.8 L515.7,1724.4 L517.9,1723.7 L520.2,1723.8 L522.4,1724.2 L524.6,1724.5 L526.8,1724.2 L529.0,1723.9 L531.2,1724.5 L533.4,1723.8 L535.7,1723.6 L537.9,1723.8 L540.1,1724.0 L542.3,1723.6 L544.5,1723.7 L546.7,1723.9 L548.9,1724.1 L551.1,1723.7 L553.4,1723.9 L555.6,1724.4 L557.8,1724.5 L560.0,1724.2 L562.3,1724.1 L564.7,1723.9 L567.0,1723.3 L569.4,1723.1 L571.7,1722.9 L574.1,1723.7 L576.4,1723.4 L578.7,1723.5 L581.1,1722.5 L583.4,1723.0 L585.8,1722.7 L588.1,1722.9 L590.5,1722.3 L592.8,1722.9 L595.2,1721.7 L597.6,1721.9 L599.9,1721.8 L602.3,1721.7 L604.7,1721.2 L607.1,1720.9 L609.4,1720.7 L611.8,1720.6 L614.2,1719.8 L616.4,1719.8 L618.7,1719.7 L620.9,1719.4 L623.1,1718.6 L625.4,1718.7 L627.6,1718.5 L629.9,1717.9 L632.1,1717.6 L634.3,1717.1 L636.6,1717.0 L638.8,1716.7 L641.1,1716.4 L643.4,1717.3 L645.7,1717.9 L648.0,1718.0 L650.3,1718.1 L652.5,1717.5 L654.8,1717.6 L657.0,1717.2 L659.2,1716.8 L661.5,1716.9 L663.7,1715.9 L666.0,1716.3 L668.2,1715.3 L670.4,1715.6 L672.7,1715.2 L674.9,1714.7 L677.1,1715.0 L679.4,1714.5 L681.6,1714.4 L683.8,1714.5 L686.1,1713.6 L688.3,1713.1 L690.6,1713.2 L692.8,1713.4 L695.0,1712.7 L697.3,1712.4 L699.5,1712.9 L701.7,1712.4 L704.0,1712.0 L706.2,1712.2 L708.4,1711.4 L710.7,1711.5 L712.9,1710.8 L715.2,1710.8 L717.4,1711.0 L719.6,1710.9 L721.9,1710.6 L724.1,1709.9 L726.5,1709.3 L729.0,1708.2 L731.5,1707.2 L733.9,1706.8 L735.9,1706.1 L737.9,1705.1 L739.8,1704.0 L741.8,1703.3 L743.8,1701.6 L746.2,1700.4 L748.7,1699.7 L751.1,1698.5 L753.6,1697.4 L755.6,1695.8 L757.7,1694.2 L759.8,1692.2 L761.8,1690.2 L763.4,1688.7 L765.1,1686.7 L766.8,1684.1 L768.4,1681.7 L769.6,1679.2 L770.8,1677.6 L772.1,1674.3 L773.3,1672.5 L774.1,1670.2 L774.9,1667.7 L775.8,1666.0 L776.6,1663.1 L777.4,1661.0 L778.2,1659.2 L779.0,1656.4 L779.8,1654.9 L780.7,1652.0 L781.5,1649.6 L782.3,1647.2 L782.8,1645.5 L783.2,1643.0 L783.7,1640.8 L784.2,1638.5 L784.7,1636.3 L785.1,1634.1 L785.6,1631.5 L786.1,1628.7 L786.5,1626.6 L787.0,1624.0 L787.5,1621.4 L788.0,1619.6 L788.4,1617.5 L788.9,1614.6 L789.3,1612.3 L789.6,1610.1 L790.0,1608.1 L790.3,1605.5 L790.7,1603.3 L791.0,1601.1 L791.4,1598.4 L791.7,1596.4 L792.1,1594.2 L792.4,1591.0 L792.8,1589.5 L793.1,1586.9 L793.5,1584.0 L793.8,1582.0 L794.2,1579.8 L794.5,1577.7 L794.9,1574.8 L795.2,1572.7 L795.6,1570.7 L795.9,1568.2 L796.3,1566.0 L796.6,1563.2 L796.9,1561.1 L797.2,1558.3 L797.5,1556.5 L797.8,1554.2 L798.1,1551.7 L798.4,1549.4 L798.9,1546.7 L799.3,1545.2 L799.8,1543.1 L800.3,1540.9 L800.7,1538.3 L801.2,1536.4 L802.8,1533.7 L804.5,1532.1 L806.1,1529.9 L810.2,1529.3 L810.8,1531.3 L811.3,1533.8 L811.9,1536.2 L812.4,1538.6 L813.0,1540.5 L813.5,1542.2 L813.8,1545.3 L814.2,1546.8 L814.5,1549.9 L814.8,1551.5 L815.1,1554.0 L815.5,1556.7 L815.8,1558.4 L816.1,1560.7 L816.5,1563.3 L816.8,1565.8 L817.1,1568.2 L817.4,1570.3 L817.7,1572.8 L818.0,1574.6 L818.3,1577.3 L818.6,1578.7 L818.9,1581.0 L819.2,1583.6 L819.5,1585.6 L819.8,1588.3 L820.1,1590.4 L820.4,1592.6 L820.7,1595.1 L821.0,1597.1 L821.3,1599.1 L821.6,1601.4 L821.9,1604.1 L822.2,1606.4 L822.5,1607.9 L822.8,1610.8 L823.1,1613.1 L823.4,1614.9 L823.9,1617.2 L824.3,1619.0 L824.8,1621.5 L825.2,1623.7 L825.7,1625.9 L826.1,1627.6 L826.6,1630.7 L827.0,1632.4 L827.5,1634.5 L828.1,1637.2 L828.7,1639.3 L829.3,1641.6 L829.8,1644.2 L830.4,1645.9 L831.0,1648.7 L831.6,1650.9 L832.5,1653.6 L833.5,1655.8 L834.5,1657.3 L835.4,1659.7 L836.3,1661.5 L837.3,1664.0 L838.3,1666.7 L839.3,1669.1 L840.2,1671.0 L841.2,1673.1 L842.2,1675.3 L843.9,1677.9 L845.5,1680.4 L847.2,1681.7 L848.5,1684.4 L849.8,1685.6 L851.1,1687.7 L852.4,1689.7 L853.7,1692.2 L856.2,1692.8 L858.7,1693.9 L861.1,1695.2 L863.6,1695.7 L865.9,1697.0 L868.2,1697.0 L870.5,1698.1 L872.8,1698.5 L875.1,1699.1 L877.3,1699.3 L879.5,1699.0 L881.8,1698.8 L884.0,1698.7 L886.6,1698.0 L889.2,1696.9 L891.9,1696.1 L894.5,1695.7 L896.6,1694.8 L898.6,1693.8 L900.7,1693.2 L902.8,1692.0 L904.9,1691.3 L906.9,1689.8 L909.0,1689.3 L911.3,1688.3 L913.6,1687.2 L915.9,1685.4 L918.2,1684.3 L920.5,1683.7 L922.0,1681.3 L923.4,1680.4 L924.9,1678.6 L926.3,1676.2 L927.8,1674.6 L929.2,1673.4 L930.2,1670.8 L931.1,1668.5 L932.1,1667.0 L933.1,1664.5 L934.0,1662.7 L935.0,1659.8 L935.9,1657.8 L936.8,1655.7 L937.6,1652.8 L938.5,1650.6 L939.4,1648.8 L940.0,1646.6 L940.6,1644.2 L941.2,1641.0 L941.8,1638.9 L942.4,1636.8 L943.0,1634.1 L943.5,1631.9 L944.0,1629.0 L944.5,1626.4 L944.9,1624.0 L945.4,1621.6 L945.9,1619.7 L946.2,1617.2 L946.6,1614.9 L947.0,1612.0 L947.3,1609.7 L947.6,1607.3 L948.0,1605.5 L948.3,1603.3 L948.6,1600.8 L949.0,1597.5 L949.3,1595.1 L949.6,1593.6 L949.9,1590.7 L950.1,1588.5 L950.3,1585.7 L950.5,1583.4 L950.8,1581.0 L951.0,1578.5 L951.2,1576.3 L951.4,1573.5 L951.6,1572.0 L951.8,1569.9 L952.1,1567.1 L952.3,1565.2 L952.5,1563.2 L952.7,1560.7 L952.9,1558.2 L953.1,1555.9 L953.3,1554.0 L953.5,1551.2 L953.7,1549.9 L953.9,1547.5 L954.1,1545.1 L954.3,1543.0 L954.5,1540.5 L954.6,1538.0 L954.8,1536.0 L955.0,1533.6 L955.2,1531.8 L955.4,1529.4 L955.6,1526.6 L955.8,1524.9 L956.0,1522.5 L956.2,1520.3 L956.4,1518.1 L956.6,1515.5 L956.8,1513.8 L957.0,1511.6 L957.2,1509.2 L957.5,1507.1 L957.7,1504.9 L957.9,1502.3 L958.1,1500.4 L958.3,1497.6 L958.5,1495.6 L958.7,1493.6 L958.9,1490.9 L959.1,1489.1 L959.4,1487.1 L959.6,1484.9 L959.8,1482.3 L960.0,1480.8 L960.2,1478.4 L960.4,1475.8 L960.5,1473.9 L960.7,1471.6 L960.9,1469.3 L961.0,1466.9 L961.1,1465.2 L961.3,1462.6 L961.4,1460.4 L961.6,1458.2 L961.8,1456.2 L961.9,1452.9 L962.0,1451.3 L962.2,1449.1 L962.3,1446.4 L962.5,1444.3 L962.6,1441.7 L962.8,1439.6 L962.9,1437.5 L963.1,1435.0 L963.2,1432.9 L963.4,1431.3 L963.5,1428.6 L963.7,1426.3 L963.8,1424.5 L964.0,1421.9 L964.1,1420.1 L964.3,1417.4 L964.5,1415.4 L964.6,1412.4 L964.8,1410.6 L965.0,1408.5 L965.1,1405.6 L965.3,1404.2 L965.5,1401.2 L965.7,1399.2 L965.8,1396.7 L966.0,1394.8 L966.2,1392.6 L966.3,1389.8 L966.5,1388.4 L966.7,1385.7 L966.8,1383.5 L967.0,1381.3 L967.2,1378.9 L967.3,1376.5 L967.5,1374.6 L967.7,1372.3 L967.9,1369.8 L968.0,1367.9 L968.2,1365.3 L968.4,1362.7 L968.5,1360.7 L968.7,1358.2 L969.0,1356.0 L969.2,1354.3 L969.5,1351.6 L969.7,1349.8 L970.0,1347.3 L970.2,1344.2 L970.5,1342.8 L970.7,1340.5 L971.0,1337.2 L971.2,1335.7 L971.5,1332.9 L972.0,1330.8 L972.5,1329.1 L972.9,1326.1 L973.4,1324.2 L973.9,1326.8 L974.3,1328.8 L974.8,1330.8 L975.3,1333.5 L975.5,1335.7 L975.7,1337.8 L975.9,1339.6 L976.1,1342.5 L976.3,1344.6 L976.5,1346.7 L976.7,1348.9 L976.9,1351.7 L977.1,1353.7 L977.3,1356.3 L977.5,1358.9 L977.6,1360.9 L977.7,1363.0 L977.8,1365.5 L977.8,1367.6 L977.9,1370.2 L978.0,1372.3 L978.1,1375.0 L978.2,1377.2 L978.3,1379.2 L978.3,1381.0 L978.4,1383.1 L978.5,1386.1 L978.6,1388.3 L978.7,1390.4 L978.8,1392.4 L978.9,1394.5 L978.9,1397.2 L979.0,1399.3 L979.1,1401.6 L979.2,1403.9 L979.3,1406.3 L979.4,1408.0 L979.4,1410.3 L979.5,1413.3 L979.6,1415.5 L979.7,1417.7 L979.8,1419.1 L979.9,1421.4 L980.0,1423.8 L980.1,1426.3 L980.2,1428.7 L980.3,1430.4 L980.4,1433.1 L980.5,1434.9 L980.6,1437.2 L980.7,1440.1 L980.8,1442.2 L980.9,1444.5 L981.0,1446.5 L981.0,1448.9 L981.1,1450.9 L981.2,1453.3 L981.3,1455.9 L981.4,1458.3 L981.5,1459.8 L981.6,1462.1 L981.7,1465.0 L981.8,1467.1 L981.9,1469.5 L982.0,1471.2 L982.1,1473.7 L982.2,1475.8 L982.3,1478.5 L982.4,1480.3 L982.5,1482.8 L982.6,1485.3 L982.8,1486.8 L982.9,1489.2 L983.0,1491.6 L983.1,1494.0 L983.2,1495.7 L983.3,1497.9 L983.4,1499.8 L983.5,1502.8 L983.6,1504.2 L983.7,1506.4 L983.9,1509.1 L984.0,1511.2 L984.1,1513.6 L984.2,1515.4 L984.3,1518.1 L984.4,1519.6 L984.6,1522.0 L984.7,1524.7 L984.9,1526.4 L985.1,1528.9 L985.2,1531.6 L985.4,1533.8 L985.5,1535.7 L985.7,1537.8 L985.9,1540.3 L986.0,1543.0 L986.2,1544.9 L986.4,1547.0 L986.7,1550.0 L986.9,1552.2 L987.1,1554.9 L987.4,1557.4 L987.7,1559.7 L988.0,1561.7 L988.4,1564.5 L988.7,1566.4 L989.0,1568.8 L989.3,1571.3 L989.7,1574.2 L990.0,1576.6 L990.3,1578.3 L990.7,1580.9 L991.0,1583.3 L991.3,1585.7 L991.6,1588.1 L992.0,1590.5 L992.3,1592.8 L992.6,1595.5 L992.9,1598.2 L993.3,1600.4 L993.6,1603.1 L994.0,1605.2 L994.4,1607.2 L994.7,1610.2 L995.1,1612.8 L995.5,1614.6 L995.8,1616.8 L996.2,1619.7 L996.6,1622.1 L996.9,1624.6 L997.3,1627.4 L997.6,1629.5 L998.0,1632.0 L998.3,1633.7 L998.7,1636.5 L999.0,1639.2 L999.4,1640.9 L999.8,1643.3 L1000.1,1646.4 L1000.5,1648.9 L1000.9,1650.6 L1001.2,1653.5 L1001.6,1655.4 L1002.1,1658.5 L1002.6,1660.8 L1003.0,1662.8 L1003.5,1665.2 L1004.0,1668.1 L1004.5,1670.3 L1005.1,1673.0 L1005.7,1675.0 L1006.3,1677.4 L1006.9,1680.4 L1007.5,1682.6 L1008.1,1684.8 L1009.1,1687.2 L1010.1,1689.7 L1011.2,1692.0 L1012.2,1694.5 L1013.2,1696.3 L1014.7,1698.9 L1016.1,1700.9 L1017.5,1703.2 L1019.0,1705.3 L1021.2,1706.8 L1023.4,1708.3 L1025.5,1709.8 L1027.7,1710.9 L1030.0,1711.8 L1032.3,1713.1 L1034.7,1714.2 L1037.0,1714.8 L1039.3,1715.8 L1041.7,1716.0 L1044.1,1717.1 L1046.5,1717.8 L1048.9,1717.7 L1051.3,1718.0 L1053.7,1718.5 L1056.1,1718.9 L1058.5,1718.9 L1061.0,1719.8 L1063.4,1719.0 L1065.8,1719.4 L1068.2,1719.4 L1070.7,1720.1 L1073.1,1720.4 L1075.5,1720.0 L1077.9,1720.0 L1080.3,1720.6 L1082.7,1720.9 L1085.1,1721.3 L1087.6,1720.6 L1090.0,1720.8 L1092.4,1721.1 L1094.8,1721.3 L1097.2,1721.4 L1099.4,1722.1 L1101.6,1722.1 L1103.9,1721.9 L1106.1,1722.1 L1108.3,1722.3 L1110.5,1722.4 L1112.8,1723.1 L1115.0,1722.9 L1117.2,1723.3 L1119.4,1723.7 L1121.7,1723.5 L1123.9,1723.5 L1126.1,1724.3 L1128.3,1724.4 L1130.6,1723.9 L1132.8,1724.2 L1135.0,1724.7 L1137.3,1724.3 L1139.5,1724.1 L1141.7,1724.0 L1143.9,1725.0 L1146.2,1725.0 L1148.4,1724.6 L1150.6,1724.9 L1152.9,1724.9 L1155.1,1724.8 L1157.4,1725.5 L1159.6,1725.2 L1161.9,1724.8 L1164.2,1724.6 L1166.4,1725.1 L1168.7,1725.0 L1170.9,1725.5 L1173.2,1725.4 L1175.5,1725.4 L1177.7,1724.9 L1180.0,1725.0 L1182.2,1725.1 L1184.4,1725.1 L1186.6,1725.7 L1188.8,1725.3 L1191.0,1725.4 L1193.2,1725.8 L1195.4,1725.1 L1197.6,1725.3 L1199.8,1725.0 L1202.0,1725.6 L1204.2,1724.8 L1206.4,1725.6 L1208.6,1725.6 L1210.8,1725.6 L1213.0,1724.9 L1215.2,1725.1 L1217.4,1725.5 L1219.7,1724.9 L1221.9,1725.3 L1224.1,1725.3 L1226.3,1725.8 L1228.5,1725.4 L1230.7,1725.7 L1232.9,1725.1 L1235.1,1725.6 L1237.3,1725.2 L1239.5,1725.7 L1241.7,1724.9 L1243.9,1725.6 L1246.1,1725.0 L1248.3,1725.3 L1250.5,1725.3 L1252.7,1725.0 L1254.9,1725.6 L1257.1,1725.1 L1259.3,1725.1 L1261.5,1724.9 L1263.7,1725.1 L1265.9,1725.3 L1268.1,1725.5 L1270.3,1725.2 L1272.5,1725.5 L1274.7,1724.9 L1276.9,1725.2 L1279.1,1725.3 L1281.3,1725.8 L1283.5,1725.6 L1285.7,1725.5 L1287.9,1724.8 L1290.1,1725.2 L1292.3,1725.5 L1294.6,1725.0 L1296.8,1725.4 L1299.0,1725.3 L1301.2,1724.8 L1303.4,1725.8 L1305.6,1725.6 L1307.8,1725.0 L1310.0,1725.4 L1312.2,1725.1 L1314.4,1725.2 L1316.6,1725.3 L1318.8,1725.1 L1321.0,1725.1 L1323.2,1725.2 L1325.4,1725.5 L1327.6,1725.1 L1329.8,1725.0 L1332.0,1725.5 L1334.2,1725.1 L1336.4,1725.7 L1338.6,1725.4 L1340.8,1725.5 L1343.0,1725.1 L1345.2,1725.6 L1347.4,1724.9 L1349.6,1724.9 L1351.8,1724.9 L1354.0,1725.5 L1356.2,1725.5 L1358.4,1725.0 L1360.6,1725.2 L1362.8,1725.6 L1365.0,1725.4 L1367.2,1724.9 L1369.4,1725.0 L1371.7,1725.0 L1373.9,1724.9 L1376.1,1725.2 L1378.3,1724.9 L1380.5,1725.7 L1382.7,1725.2 L1384.9,1725.3 L1387.1,1725.4 L1389.3,1725.6 L1391.5,1725.6 L1393.7,1725.2 L1395.9,1725.1 L1398.1,1725.2 L1400.3,1724.8 L1402.5,1725.2 L1404.7,1725.5 L1406.9,1725.8 L1409.1,1725.6 L1411.3,1725.5 L1413.5,1725.4 L1415.7,1724.8 L1417.9,1725.1 L1420.1,1725.1 L1422.3,1725.5 L1424.5,1724.9 L1426.7,1725.2 L1428.9,1725.3 L1431.1,1725.6 L1433.3,1725.6 L1435.5,1725.4 L1437.7,1725.0 L1439.9,1725.6 L1442.1,1725.7 L1444.3,1725.3 L1446.6,1725.2 L1448.8,1725.3 L1451.0,1724.9 L1453.2,1725.5 L1455.4,1725.8 L1457.6,1725.3 L1459.8,1725.5 L1462.0,1725.6 L1464.2,1725.0 L1466.4,1725.7 L1468.6,1725.4 L1470.8,1725.0 L1473.0,1724.9 L1475.2,1725.0 L1477.4,1725.4 L1479.6,1725.5 L1481.8,1725.1 L1484.0,1725.7 L1486.3,1725.0 L1488.6,1725.0 L1490.9,1724.5 L1493.2,1725.2 L1495.4,1724.2 L1497.7,1724.8 L1500.0,1724.3 L1502.3,1724.1 L1504.6,1724.0 L1506.9,1723.4 L1509.1,1723.8 L1511.4,1723.7 L1513.6,1723.3 L1515.9,1722.8 L1518.1,1722.1 L1520.4,1722.6 L1522.6,1721.8 L1524.9,1722.2 L1527.2,1721.3 L1529.4,1721.3 L1531.7,1721.3 L1533.9,1720.3 L1536.2,1720.4 L1538.4,1719.6 L1540.7,1719.3 L1542.9,1719.2 L1545.2,1719.7 L1547.4,1719.5 L1549.7,1719.1 L1551.9,1718.6 L1554.2,1718.8 L1556.4,1718.8 L1558.7,1718.3 L1560.9,1718.4 L1563.2,1718.4 L1565.4,1717.5 L1567.8,1717.8 L1570.2,1718.1 L1572.6,1717.8 L1575.0,1718.1 L1577.4,1718.4 L1579.8,1718.0 L1582.2,1718.5 L1584.6,1718.3 L1586.8,1718.5 L1589.1,1718.1 L1591.3,1718.3 L1593.5,1717.6 L1595.8,1718.1 L1598.0,1717.5 L1600.3,1718.2 L1602.5,1717.7 L1604.7,1717.5 L1607.0,1717.3 L1609.2,1717.4 L1611.4,1717.3 L1613.7,1717.3 L1615.9,1717.1 L1618.1,1716.7 L1620.4,1717.1 L1622.6,1716.8 L1624.9,1716.6 L1627.1,1716.0 L1629.3,1715.9 L1631.6,1715.9 L1633.8,1716.1 L1636.2,1715.3 L1638.5,1714.8 L1640.9,1714.2 L1643.2,1714.2 L1645.6,1713.2 L1647.9,1712.4 L1650.3,1712.6 L1652.6,1711.8 L1654.9,1710.7 L1657.1,1709.6 L1659.4,1708.7 L1661.7,1707.3 L1663.7,1706.3 L1665.7,1704.4 L1667.6,1703.2 L1669.6,1702.2 L1671.6,1700.9 L1673.2,1699.3 L1674.9,1697.5 L1676.5,1696.6 L1678.1,1694.9 L1679.8,1693.1 L1681.4,1691.7 L1683.1,1689.9 L1684.7,1687.8 L1686.3,1685.7 L1688.0,1684.6 L1689.7,1682.8 L1691.3,1680.6 L1692.5,1678.9 L1693.6,1676.6 L1694.8,1675.1 L1696.0,1672.6 L1697.2,1671.3 L1698.3,1669.2 L1699.5,1667.7 L1700.7,1664.8 L1701.8,1663.4 L1703.0,1660.6 L1704.2,1658.9 L1705.4,1657.2 L1706.5,1654.1 L1707.7,1652.2 L1709.0,1650.3 L1710.3,1648.4 L1711.7,1646.2 L1713.0,1645.1 L1714.3,1643.0 L1715.9,1641.1 L1717.6,1639.6 L1719.2,1638.3 L1720.9,1636.3 L1722.5,1634.8 L1724.5,1637.2 L1726.4,1638.1 L1728.4,1639.7 L1730.3,1641.7 L1732.3,1643.2 L1733.7,1644.6 L1735.0,1646.2 L1736.4,1648.2 L1737.8,1650.8 L1739.1,1652.7 L1740.5,1653.9 L1741.7,1656.6 L1742.8,1658.3 L1744.0,1660.5 L1745.2,1662.3 L1746.4,1665.1 L1747.5,1667.3 L1748.7,1668.6 L1749.9,1670.9 L1751.0,1672.3 L1752.2,1674.9 L1753.4,1675.9 L1754.6,1677.9 L1755.7,1680.4 L1756.9,1681.8 L1758.3,1684.3 L1759.6,1686.2 L1761.0,1688.0 L1762.4,1689.3 L1763.7,1691.8 L1765.1,1693.9 L1766.7,1695.1 L1768.4,1696.4 L1770.0,1698.1 L1771.7,1699.9 L1773.3,1701.9 L1775.3,1702.7 L1777.3,1704.0 L1779.2,1705.4 L1781.2,1707.1 L1783.2,1708.6 L1785.3,1708.9 L1787.4,1709.9 L1789.5,1710.8 L1791.7,1711.2 L1793.8,1711.5 L1795.9,1712.3 L1798.0,1713.6 L1800.3,1713.7 L1802.7,1713.7 L1805.0,1714.4 L1807.4,1714.2 L1809.7,1715.5 L1812.1,1715.3 L1814.4,1715.7 L1816.6,1715.7 L1818.9,1715.2 L1821.1,1715.8 L1823.3,1715.5 L1825.6,1715.5 L1827.8,1716.0 L1830.1,1715.3 L1832.3,1715.5 L1834.5,1716.0 L1836.8,1715.4 L1839.0,1715.5 L1841.2,1715.5 L1843.5,1714.9 L1845.7,1715.4 L1847.9,1715.3 L1850.2,1714.1 L1852.4,1714.3 L1854.7,1714.4 L1856.9,1713.8 L1859.1,1714.1 L1861.4,1713.4 L1863.6,1712.9 L1865.9,1712.8 L1868.2,1712.4 L1870.5,1711.6 L1872.8,1711.4 L1875.1,1711.1 L1877.5,1710.2 L1880.0,1709.7 L1882.5,1709.4 L1884.9,1708.7 L1887.2,1708.5 L1889.4,1708.8 L1891.7,1708.0 L1893.9,1708.5 L1896.2,1707.9 L1898.6,1708.7 L1900.9,1708.6 L1903.3,1709.2 L1905.7,1709.9 L1908.0,1710.2 L1910.4,1710.6 L1912.7,1711.0 L1915.0,1712.1 L1917.3,1712.8 L1919.7,1714.1 L1922.0,1714.9 L1924.3,1715.4 L1926.6,1716.9 L1928.8,1717.3 L1931.0,1717.5 L1933.2,1718.2 L1935.4,1717.8 L1937.6,1718.1 L1939.9,1718.3 L1942.1,1719.1 L1944.3,1719.4 L1946.5,1719.7 L1948.7,1719.8 L1950.9,1720.7 L1953.2,1720.2 L1955.4,1721.3 L1957.7,1721.1 L1959.9,1721.3 L1962.2,1721.8 L1964.4,1721.5 L1966.7,1721.6 L1968.9,1722.0 L1971.2,1721.9 L1973.5,1722.2 L1975.9,1722.5 L1978.2,1722.4 L1980.6,1722.2 L1982.9,1722.5 L1985.2,1722.0 L1987.6,1722.7 L1989.9,1722.1 L1992.2,1722.2 L1994.6,1722.1 L1996.9,1722.6 L1999.3,1722.7 L2001.6,1722.7 L2003.9,1721.9 L2006.1,1722.2 L2008.4,1722.1 L2010.6,1721.8 L2012.9,1722.5 L2015.1,1721.5 L2017.4,1721.9 L2019.6,1722.1 L2021.9,1722.3 L2024.2,1721.1 L2026.4,1721.1 L2028.7,1721.0 L2030.9,1720.0 L2033.2,1719.9 L2035.4,1720.2 L2037.7,1719.1 L2039.9,1719.0 L2042.2,1718.6 L2044.4,1718.5 L2046.7,1717.8 L2048.9,1717.5 L2051.2,1718.2 L2053.4,1717.7 L2055.7,1717.4 L2057.9,1716.7 L2060.2,1716.4 L2062.4,1716.5 L2064.7,1716.1 L2066.9,1716.4 L2069.2,1716.8 L2071.4,1716.3 L2073.7,1716.2 L2075.9,1716.9 L2078.2,1716.5 L2080.4,1715.9 L2082.7,1716.3 L2085.0,1716.8 L2087.2,1716.4 L2089.5,1716.9 L2091.7,1717.5 L2094.0,1717.9 L2096.2,1717.8 L2098.5,1718.3 L2100.7,1718.1 L2103.0,1718.3 L2105.3,1719.2 L2107.5,1719.2 L2109.8,1720.0 L2112.0,1719.9 L2114.3,1720.5 L2116.5,1720.8 L2118.8,1721.6 L2121.0,1721.6 L2123.3,1722.1 L2125.5,1722.4 L2127.8,1722.9 L2130.0,1723.0 L2132.3,1723.5 L2134.5,1724.3 L2136.8,1724.2 L2139.0,1724.7 L2141.3,1724.3 L2143.5,1724.8 L2145.8,1724.5 L2148.0,1725.1 L2150.3,1724.8 L2152.5,1724.8 L2154.8,1724.5 L2157.0,1724.7 L2159.3,1724.8 L2161.5,1725.0 L2163.8,1725.5 L2166.1,1725.3 L2168.3,1724.9 L2170.6,1725.0 L2172.8,1724.8 L2175.1,1725.6 L2177.3,1725.1 L2179.6,1725.5 L2181.8,1725.5 L2184.1,1725.7 L2186.3,1724.8 L2188.5,1725.1 L2190.7,1725.2 L2192.9,1724.9 L2195.1,1725.6 L2197.3,1725.1 L2199.5,1725.5 L2201.7,1725.3 L2204.0,1724.8 L2206.2,1725.1 L2208.4,1725.0 L2210.6,1724.7 L2212.8,1724.8 L2215.0,1725.3 L2217.2,1724.7 L2219.4,1725.0 L2221.6,1725.1 L2223.8,1725.2 L2226.0,1724.8 L2228.2,1725.3 L2230.4,1724.9 L2232.6,1725.4 L2234.8,1725.3 L2237.0,1724.8 L2239.2,1724.8 L2241.5,1724.9 L2243.7,1725.3 L2245.9,1725.0 L2248.1,1725.0 L2250.3,1725.4 L2252.5,1724.8 L2254.7,1724.8 L2256.9,1724.9 L2259.1,1724.7 L2261.3,1724.6 L2263.5,1724.5 L2265.7,1725.1 L2267.9,1725.1 L2270.1,1725.3 L2272.3,1725.5 L2274.5,1724.8 L2276.7,1725.1 L2279.0,1725.4 L2281.2,1724.7 L2283.4,1725.1 L2285.6,1725.1 L2287.8,1725.4 L2290.0,1725.3 L2292.2,1724.7 L2294.4,1725.0 L2296.6,1724.9" stroke="#ff0000" stroke-width="10" stroke-linecap="butt"/>
<path d="M235,104.3 L268,104.3 M314,104.3 L348,104.3" stroke="#000" stroke-width="10"/>
<path d="M235,184.6 L376,184.6" stroke="#000" stroke-width="10"/>
<path d="M235,265.3 L268,265.3 M314,265.3 L348,265.3" stroke="#ff0000" stroke-width="10"/>
<path d="M235,345.9 L376,345.9" stroke="#ff0000" stroke-width="10"/>
</g>
<text x="394" y="124.9" font-size="63">MW99<tspan dy="5">_</tspan><tspan dy="-5">P</tspan></text>
<text x="394" y="205.9" font-size="63">MW99<tspan dy="5">_</tspan><tspan dy="-5">T</tspan></text>
<text x="394" y="286.3" font-size="63">MW95<tspan dy="5">_</tspan><tspan dy="-5">P</tspan></text>
<text x="394" y="367" font-size="63">MW95<tspan dy="5">_</tspan><tspan dy="-5">T</tspan></text>
<text x="813.5" y="127.7" font-size="78">D</text>
<text x="973" y="197.6" font-size="78">G</text>
<text x="1683" y="383.8" font-size="78">2D</text>
<text x="1798.7" y="456.6" font-size="78">D+D&#39;</text>
<text x="2043.3" y="473.7" font-size="78">2D&#39;</text>
<text transform="translate(228.0,1855.3) scale(1,1.02)" font-size="88" text-anchor="middle">500</text>
<text transform="translate(572.7,1855.3) scale(1,1.02)" font-size="88" text-anchor="middle">1000</text>
<text transform="translate(917.3,1855.3) scale(1,1.02)" font-size="88" text-anchor="middle">1500</text>
<text transform="translate(1262.0,1855.3) scale(1,1.02)" font-size="88" text-anchor="middle">2000</text>
<text transform="translate(1606.7,1855.3) scale(1,1.02)" font-size="88" text-anchor="middle">2500</text>
<text transform="translate(1951.3,1855.3) scale(1,1.02)" font-size="88" text-anchor="middle">3000</text>
<text transform="translate(2296.0,1855.3) scale(1,1.02)" font-size="88" text-anchor="middle">3500</text>
<text transform="translate(903,2020) scale(1,1.02)" font-size="94" xml:space="preserve">Raman shift/ cm<tspan font-size="65" dx="2" dy="-38.24">-1</tspan></text>
<text transform="translate(95,1109) rotate(-90)" font-size="95" xml:space="preserve">Intensity/ a.u.</text>
</svg></body></html>
